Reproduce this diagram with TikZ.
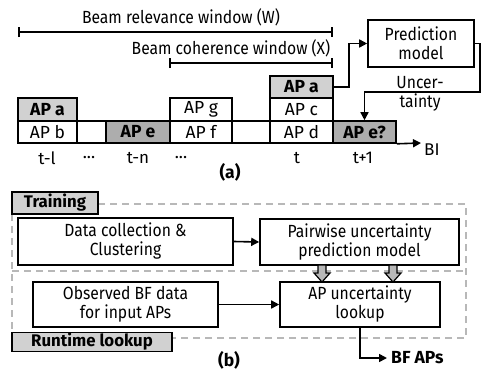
\documentclass[tikz,border=0pt]{standalone}
\usepackage{fontspec}
\setmainfont{Fira Sans}
\newfontfamily\labf{Fira Sans}[FakeStretch=0.89]
\usetikzlibrary{arrows.meta}
\begin{document}
\begin{tikzpicture}[x=1pt,y=-1pt,
  cellbox/.style={draw, line width=1.6pt, inner sep=0pt, font=\fontsize{17.5}{18}\selectfont},
  mainbox/.style={draw, line width=1.6pt, inner sep=0pt, align=center, font=\labf\fontsize{17.6}{19}\selectfont},
  lbl/.style={inner sep=0pt, font=\labf\fontsize{17.6}{19}\selectfont},
  tlbl/.style={inner sep=0pt, font=\fontsize{17}{18}\selectfont},
  conn/.style={line width=1.6pt, -{Triangle[length=8pt,width=8pt]}},
  winline/.style={line width=1.6pt, {Bar[width=10pt,line width=1.6pt]}-{Bar[width=10pt,line width=1.6pt]}},
  tagbox/.style={draw, line width=1.4pt, fill=black!18, inner sep=0pt, font=\bfseries\fontsize{16.8}{18}\selectfont},
  dashline/.style={draw=black!28, line width=1.6pt, dash pattern=on 7pt off 5pt},
  blockarrow/.style={draw, line width=1.2pt, fill=black!28},
]
\useasboundingbox (0,0) rectangle (489,372);

% windows
\coordinate (w1) at (18,32); \coordinate (w2) at (333,32);
\coordinate (x1) at (169,63); \coordinate (x2) at (333,63);
\draw[winline] (w1) -- (w2);
\draw[winline] (x1) -- (x2);
\node[lbl] (wlab) at (181,17) {Beam relevance window (W)};
\node[lbl] (xlab) at (231,48) {Beam coherence window (X)};

% cells
\node[cellbox, fill=black!18, minimum width=59pt, minimum height=23pt] (a1) at (47.5,109.5) {\textbf{AP a}};
\node[cellbox, minimum width=59pt, minimum height=22pt] (b1) at (47.5,132) {AP b};
\node[cellbox, minimum width=29pt, minimum height=22pt] (g1) at (91.5,132) {};
\node[cellbox, fill=black!32, minimum width=64pt, minimum height=22pt] (e1) at (138,132) {\textbf{AP e}};
\node[cellbox, minimum width=62pt, minimum height=23pt] (gg) at (201,109.5) {AP g};
\node[cellbox, minimum width=62pt, minimum height=22pt] (ff) at (201,132) {AP f};
\node[cellbox, minimum width=38pt, minimum height=22pt] (g2) at (251,132) {};
\node[cellbox, fill=black!18, minimum width=63pt, minimum height=22pt] (ta) at (301.5,87) {\textbf{AP a}};
\node[cellbox, minimum width=63pt, minimum height=23pt] (tc) at (301.5,109.5) {AP c};
\node[cellbox, minimum width=63pt, minimum height=22pt] (td) at (301.5,132) {AP d};
\node[cellbox, fill=black!32, minimum width=63pt, minimum height=22pt] (eq) at (364.5,132) {\textbf{AP e?}};

% time labels
\node[tlbl] (tl) at (47,158) {t-l};
\node[tlbl] (d1) at (89,158) {...};
\node[tlbl] (tn) at (138,158) {t-n};
\node[tlbl] (d2) at (181,158) {...};
\node[tlbl] (tt) at (297,158) {t};
\node[tlbl] (t1) at (363,158) {t+1};
\node[tlbl, font=\bfseries\fontsize{17.5}{18}\selectfont] (alab) at (230,172) {(a)};

% timeline
\coordinate (bi) at (421,143);
\draw[conn] (eq.south east) -- (bi);
\node[tlbl, anchor=west] (bil) at (424,150) {BI};

% prediction model
\node[mainbox, minimum width=106pt, minimum height=47pt] (pred) at (421,43.5) {Prediction\\model};
\draw[conn] (ta.east) -- ++(15,0) |- (pred.west);
\draw[conn] (pred.east) -- ++(5,0) |- ([yshift=28pt]eq.north) -- (eq.north);
\node[lbl, align=center, font=\labf\fontsize{17.6}{19}\selectfont] (unc) at (420,94) {Uncer-\\tainty};

% bottom part: dashed frames
\coordinate (c1) at (98,204); \coordinate (c2) at (466,204);
\coordinate (c3) at (466,338); \coordinate (c4) at (172,338);
\coordinate (c5) at (12,214); \coordinate (c6) at (12,333);
\coordinate (m1) at (12,271); \coordinate (m2) at (466,271);
\draw[dashline] (c1) -- (c2) -- (c3) -- (c4);
\draw[dashline] (c5) -- (c6);
\draw[dashline] (m1) -- (m2);
\node[tagbox, minimum width=86pt, minimum height=22pt] (train) at (55,203) {Training};
\node[tagbox, minimum width=160pt, minimum height=19pt] (run) at (92,342) {Runtime lookup};

% boxes
\node[mainbox, minimum width=215pt, minimum height=47pt] (data) at (125.5,241.5) {Data collection \&\\Clustering};
\node[mainbox, minimum width=199pt, minimum height=46pt] (pair) at (359.5,242) {Pairwise uncertainty\\prediction model};
\node[mainbox, minimum width=185pt, minimum height=45pt] (obs) at (125.5,304.5) {Observed BF data\\for input APs};
\node[mainbox, minimum width=160pt, minimum height=45pt] (look) at (360,304.5) {AP uncertainty\\lookup};
\draw[conn] (data.east) -- (pair.west);
\draw[conn] (obs.east) -- (look.west);

% block arrows
\foreach \cx in {322,393} {
  \draw[blockarrow] (\cx-4,265) -- (\cx+4,265) -- (\cx+4,273) -- (\cx+8,273) -- (\cx,282) -- (\cx-8,273) -- (\cx-4,273) -- cycle;
}

% output
\coordinate (bf) at (387,358);
\draw[conn] (look.south) |- (bf);
\node[lbl, anchor=west, font=\bfseries\fontsize{17.5}{18}\selectfont] (bfl) at (391,358) {BF APs};
\node[lbl, font=\bfseries\fontsize{17.5}{18}\selectfont] (blab) at (229,360) {(b)};
\end{tikzpicture}
\end{document}
